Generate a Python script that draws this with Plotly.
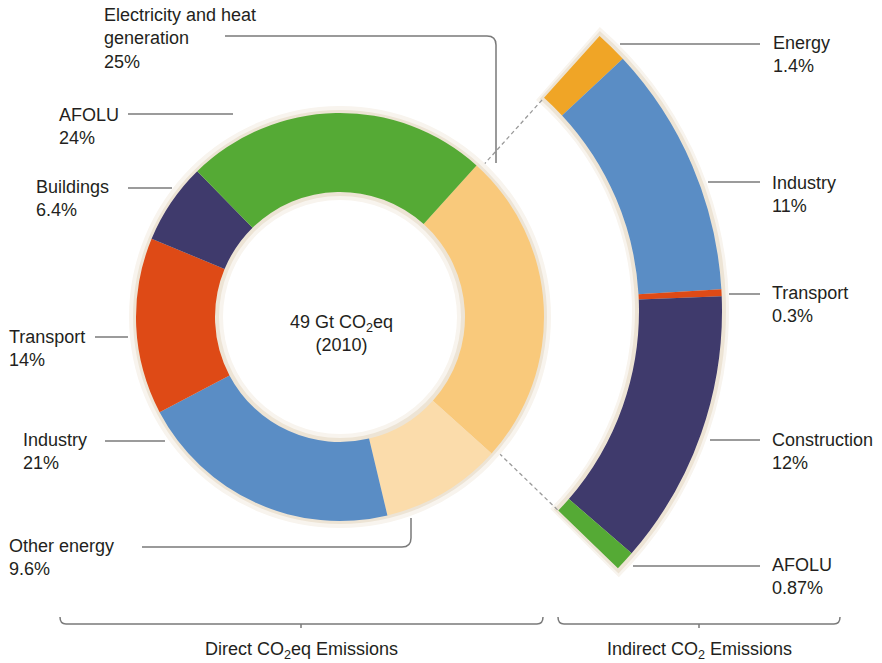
import numpy as np
import plotly.graph_objects as go

# ---------------- data ----------------
direct_labels = ["Electricity and heat<br>generation", "Other energy", "Industry",
                 "Transport", "Buildings", "AFOLU"]
direct_values = [25, 9.6, 21, 14, 6.4, 24]
direct_colors = ["#f9c97b", "#fbdcab", "#5a8dc5", "#de4a16", "#3f3a6c", "#55aa35"]

indirect_labels = ["Energy", "Industry", "Transport", "Construction", "AFOLU"]
indirect_values = [1.4, 11, 0.3, 12, 0.87]
indirect_colors = ["#f0a526", "#5a8dc5", "#de4a16", "#3f3a6c", "#55aa35"]

center_text = "49 Gt CO<sub>2</sub>eq<br>(2010)"
group_labels = ["Direct CO<sub>2</sub>eq Emissions", "Indirect CO<sub>2</sub> Emissions"]

# ---------------- geometry (pixels) ----------------
W, H = 882, 663
START = 42.0                       # first slice starts 42 deg clockwise from 12 o'clock
DEG_PER_PCT = 3.6
CX1, CY1, R1, RH1 = 340, 317, 204, 125     # direct donut
CX2, CY2, R2, RH2 = 352, 311, 370, 287     # indirect arc
RMAX = 378
SEC = (-47, 50)                    # polar sector (layout degrees)

FONT = "Liberation Sans, Arial, Helvetica, sans-serif"
FS = 18
TXT = "#231f20"
LINE = "#7a7a7a"


def px(x):
    return x / W


def py(y):
    return 1 - y / H


def pie_domain(cx, cy, r):
    return dict(x=[px(cx - r), px(cx + r)], y=[py(cy + r), py(cy - r)])


fig = go.Figure()

# halo (soft shadow) behind donut
for rr, hh, col in [(211, 117, "#f8f4ee"), (207, 121, "#ede4d5")]:
    fig.add_trace(go.Pie(values=[1], marker=dict(colors=[col], line=dict(width=0)),
                         hole=hh / rr, domain=pie_domain(CX1, CY1, rr),
                         textinfo="none", hoverinfo="skip", showlegend=False, sort=False))

# direct donut
fig.add_trace(go.Pie(values=direct_values, labels=[l.replace("<br>", " ") for l in direct_labels],
                     marker=dict(colors=direct_colors, line=dict(width=0)),
                     hole=RH1 / R1, domain=pie_domain(CX1, CY1, R1),
                     rotation=START, direction="clockwise", sort=False,
                     textinfo="none", showlegend=False))

# indirect arc as barpolar in a sector polar subplot
vals = np.array(indirect_values, dtype=float)
cum = np.concatenate([[0], np.cumsum(vals)])
theta_c = START + DEG_PER_PCT * (cum[:-1] + vals / 2)
widths = DEG_PER_PCT * vals
total = cum[-1]

for ext, pad, col in [(1.8, 7, "#f8f4ee"), (1.0, 4, "#ede4d5")]:
    fig.add_trace(go.Barpolar(theta=[START + DEG_PER_PCT * total / 2], width=[DEG_PER_PCT * total + ext],
                              base=[RH2 - pad], r=[(R2 + pad) - (RH2 - pad)],
                              marker=dict(color=col, line=dict(width=0)),
                              subplot="polar", hoverinfo="skip", showlegend=False))

fig.add_trace(go.Barpolar(theta=theta_c, width=widths, base=[RH2] * len(vals),
                          r=[R2 - RH2] * len(vals), text=indirect_labels,
                          marker=dict(color=indirect_colors, line=dict(width=0)),
                          subplot="polar", showlegend=False))

# dashed connectors
for ang, r0 in [(START, 196), (START + DEG_PER_PCT * total, 198)]:
    fig.add_trace(go.Scatterpolar(theta=[ang, ang], r=[r0, RH2], mode="lines",
                                  line=dict(color="#9a9a9a", width=1.3, dash="4px,3px"),
                                  subplot="polar", hoverinfo="skip", showlegend=False))

sec_top = CY2 - RMAX * np.sin(np.deg2rad(SEC[1]))
sec_bot = CY2 - RMAX * np.sin(np.deg2rad(SEC[0]))
fig.update_layout(polar=dict(
    domain=dict(x=[px(CX2), px(CX2 + RMAX)], y=[py(sec_bot), py(sec_top)]),
    sector=list(SEC), hole=0, bgcolor="rgba(0,0,0,0)",
    radialaxis=dict(range=[0, RMAX], visible=False, showgrid=False, showline=False, showticklabels=False),
    angularaxis=dict(rotation=90, direction="clockwise", visible=False, showgrid=False,
                     showline=False, showticklabels=False),
))

# ---------------- leader lines ----------------
def P(x, y):
    return f"{px(x):.5f},{py(y):.5f}"


paths = [
    f"M{P(225,36)} L{P(487,36)} Q{P(496,36)} {P(496,45)} L{P(496,163)}",
    f"M{P(128,114)} L{P(233,114)}",
    f"M{P(128,188)} L{P(172,188)}",
    f"M{P(95,337)} L{P(128,337)}",
    f"M{P(105,441)} L{P(165,441)}",
    f"M{P(142,547)} L{P(402,547)} Q{P(411,547)} {P(411,538)} L{P(411,518)}",
    f"M{P(620,44)} L{P(760,44)}",
    f"M{P(708,182)} L{P(760,182)}",
    f"M{P(729,294)} L{P(760,294)}",
    f"M{P(710,440)} L{P(760,440)}",
    f"M{P(633,566)} L{P(760,566)}",
    # braces
    f"M{P(60,617)} Q{P(60,624)} {P(66,624)} L{P(537,624)} Q{P(543,624)} {P(543,617)}",
    f"M{P(301,624)} L{P(301,628)}",
    f"M{P(558,617)} Q{P(558,624)} {P(564,624)} L{P(834,624)} Q{P(840,624)} {P(840,617)}",
    f"M{P(699,624)} L{P(699,628)}",
]
shapes = [dict(type="path", path=p, xref="paper", yref="paper",
               line=dict(color=LINE, width=1.5), layer="above") for p in paths]

# ---------------- labels ----------------
def fmt(v):
    return f"{v:g}%"


direct_pos = [(102, 38), (7, 557), (21, 451), (7, 348), (34, 198), (57, 126)]
indirect_pos = [(771, 54), (770, 194), (770, 305), (770, 451), (770, 576)]

ann = []
for lab, v, (x, y) in zip(direct_labels, direct_values, direct_pos):
    ann.append(dict(x=px(x), y=py(y), text=f"{lab}<br>{fmt(v)}"))
for lab, v, (x, y) in zip(indirect_labels, indirect_values, indirect_pos):
    ann.append(dict(x=px(x), y=py(y), text=f"{lab}<br>{fmt(v)}"))
for a in ann:
    a.update(xref="paper", yref="paper", xanchor="left", yanchor="middle", align="left",
             showarrow=False, font=dict(family=FONT, size=FS, color=TXT))

ann.append(dict(x=px(CX1 + 1), y=py(333), text=center_text, xref="paper", yref="paper",
                xanchor="center", yanchor="middle", align="center", showarrow=False,
                font=dict(family=FONT, size=FS, color=TXT)))
for lab, x in zip(group_labels, [301, 699]):
    ann.append(dict(x=px(x), y=py(650), text=lab, xref="paper", yref="paper",
                    xanchor="center", yanchor="middle", showarrow=False,
                    font=dict(family=FONT, size=FS, color=TXT)))

fig.update_layout(width=W, height=H, margin=dict(l=0, r=0, t=0, b=0),
                  paper_bgcolor="white", plot_bgcolor="white",
                  shapes=shapes, annotations=ann, showlegend=False)

fig.write_html("out.html")
